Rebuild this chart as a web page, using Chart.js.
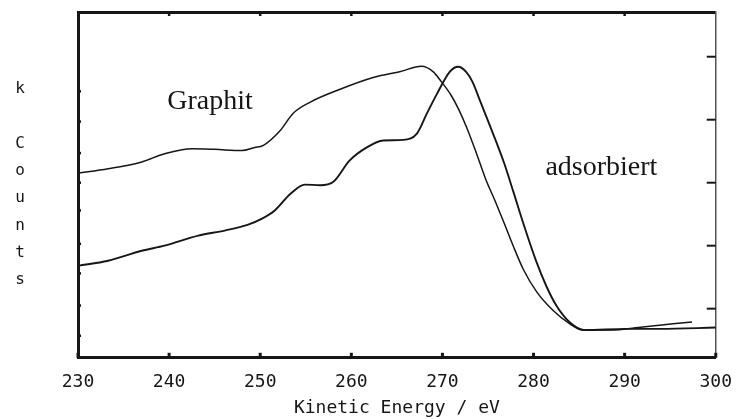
<!DOCTYPE html>
<html>
<head>
<meta charset="utf-8">
<script src="https://cdn.jsdelivr.net/npm/chart.js@4"></script>
<style>
  html, body { margin: 0; padding: 0; background: #fff; }
  #wrap { width: 736px; height: 419px; }
</style>
</head>
<body>
<div id="wrap"><canvas id="augerChart"></canvas></div>
<script>
// tick positions (eV on x, k counts on y)
const energyTicks = [230, 240, 250, 260, 270, 280, 290, 300];
const countTicksLeft = [0.57, 1.05, 1.56, 2.03, 2.56, 3.0, 3.47, 3.97, 4.45];
const countTicksRight = [1, 2, 3, 4, 5];

// spectra
const graphitEnergy = [230, 233.3, 237, 239.5, 242.5, 245, 248, 249.4, 250.3, 252.2, 253.6, 255.5,
  258.7, 262.4, 265.3, 267.7, 269, 269.9, 270.9, 271.8, 272.65, 273.75, 274.74, 275.75, 276.66,
  277.76, 278.86, 280.33, 282.15, 283.98, 285.4, 288.4, 292, 297.4];
const graphitCounts = [3.15, 3.22, 3.33, 3.46, 3.54, 3.53, 3.51, 3.56, 3.59, 3.83, 4.1, 4.28,
  4.48, 4.67, 4.76, 4.85, 4.76, 4.6, 4.4, 4.16, 3.88, 3.46, 3.06, 2.72, 2.40,
  2.0, 1.63, 1.27, 0.97, 0.76, 0.66, 0.66, 0.71, 0.79];

const adsorbEnergy = [230, 233.3, 237, 239.5, 243.2, 246.1, 248.6, 250.2, 251.6, 253.3, 254.9,
  256.6, 258, 259.8, 261.7, 263.5, 265.7, 267.2, 268.3, 269.4, 270.8, 271.73, 272.6, 273.3,
  274.1, 275.5, 276.8, 277.8, 279.0, 280.3, 281.4, 282.5, 284.0, 285.6, 290.2, 293.9, 300];
const adsorbCounts = [1.68, 1.76, 1.92, 2.0, 2.16, 2.24, 2.33, 2.43, 2.56, 2.82, 2.97,
  2.96, 3.01, 3.35, 3.56, 3.67, 3.68, 3.78, 4.1, 4.41, 4.76, 4.84, 4.76, 4.6,
  4.31, 3.8, 3.3, 2.85, 2.3, 1.75, 1.36, 1.05, 0.78, 0.66, 0.68, 0.68, 0.70];

const ink = '#161616';

function toPoints(xs, ys) {
  return xs.map((x, i) => ({ x: x, y: ys[i] }));
}

function setTicks(values) {
  return scale => { scale.ticks = values.map(v => ({ value: v })); };
}

// short tick marks pointing into the plot, on all four sides
const inwardTicks = {
  id: 'inwardTicks',
  afterDatasetsDraw(chart, args, opts) {
    const ctx = chart.ctx;
    const area = chart.chartArea;
    ctx.save();
    ctx.strokeStyle = ink;
    Object.keys(opts.sides).forEach(id => {
      const s = chart.scales[id];
      const o = opts.sides[id];
      ctx.lineWidth = o.width;
      s.ticks.forEach(t => {
        const p = s.getPixelForValue(t.value);
        ctx.beginPath();
        if (id === 'x') { ctx.moveTo(p, area.bottom); ctx.lineTo(p, area.bottom - o.len); }
        if (id === 'x2') { ctx.moveTo(p, area.top); ctx.lineTo(p, area.top + o.len); }
        if (id === 'y') { ctx.moveTo(area.left, p); ctx.lineTo(area.left + o.len, p); }
        if (id === 'y2') { ctx.moveTo(area.right, p); ctx.lineTo(area.right - o.len, p); }
        ctx.stroke();
      });
    });
    ctx.restore();
  }
};

// curve names and the stacked "k Counts" label
const textLabels = {
  id: 'textLabels',
  afterDraw(chart, args, opts) {
    const ctx = chart.ctx;
    const sx = chart.scales.x, sy = chart.scales.y;
    ctx.save();
    ctx.fillStyle = ink;
    ctx.textBaseline = 'middle';
    ctx.textAlign = 'left';
    ctx.font = '28px "Liberation Serif", "Times New Roman", serif';
    opts.names.forEach(n => {
      ctx.fillText(n.text, sx.getPixelForValue(n.x), sy.getPixelForValue(n.y));
    });
    ctx.textAlign = 'center';
    ctx.font = '16px "DejaVu Sans Mono", monospace';
    const yl = opts.yLabel;
    yl.lines.forEach((ch, i) => {
      ctx.fillText(ch, yl.left, yl.top + i * yl.step);
    });
    ctx.restore();
  }
};

const frameGrid = { display: false, drawTicks: false };

new Chart(document.getElementById('augerChart'), {
  type: 'line',
  data: {
    datasets: [{
      label: 'Graphit',
      data: toPoints(graphitEnergy, graphitCounts),
      borderColor: ink,
      borderWidth: 1.5,
      pointRadius: 0,
      cubicInterpolationMode: 'monotone',
      fill: false
    }, {
      label: 'adsorbiert',
      data: toPoints(adsorbEnergy, adsorbCounts),
      borderColor: ink,
      borderWidth: 1.9,
      pointRadius: 0,
      cubicInterpolationMode: 'monotone',
      fill: false
    }]
  },
  options: {
    responsive: true,
    maintainAspectRatio: false,
    animation: false,
    layout: { padding: { left: 78, right: 20, top: 12, bottom: 0 } },
    plugins: {
      legend: { display: false },
      tooltip: { enabled: false },
      inwardTicks: {
        sides: {
          x: { len: 5, width: 3 },
          x2: { len: 4, width: 2.5 },
          y: { len: 3, width: 2.5 },
          y2: { len: 9, width: 2 }
        }
      },
      textLabels: {
        names: [
          { text: 'Graphit', x: 239.8, y: 4.28 },
          { text: 'adsorbiert', x: 281.3, y: 3.24 }
        ],
        yLabel: { lines: ['k', '', 'C', 'o', 'u', 'n', 't', 's'], left: 20, top: 89, step: 27.3 }
      }
    },
    scales: {
      x: {
        type: 'linear',
        position: 'bottom',
        min: 230,
        max: 300,
        afterBuildTicks: setTicks(energyTicks),
        grid: { display: false, drawTicks: true, tickLength: 10 },
        border: { display: true, width: 3, color: ink },
        ticks: {
          padding: 4,
          color: ink,
          font: { family: '"DejaVu Sans Mono", monospace', size: 18 },
          maxRotation: 0
        },
        title: {
          display: true,
          text: 'Kinetic Energy / eV',
          color: ink,
          font: { family: '"DejaVu Sans Mono", monospace', size: 18 },
          padding: { top: 0, bottom: 0 }
        }
      },
      x2: {
        type: 'linear',
        position: 'top',
        min: 230,
        max: 300,
        afterBuildTicks: setTicks(energyTicks.slice(1, -1)),
        grid: frameGrid,
        border: { display: true, width: 3, color: ink },
        ticks: { display: false }
      },
      y: {
        type: 'linear',
        position: 'left',
        min: 0.22,
        max: 5.71,
        afterBuildTicks: setTicks(countTicksLeft),
        grid: frameGrid,
        border: { display: true, width: 3, color: ink },
        ticks: { display: false }
      },
      y2: {
        type: 'linear',
        position: 'right',
        min: 0.22,
        max: 5.71,
        afterBuildTicks: setTicks(countTicksRight),
        grid: frameGrid,
        border: { display: true, width: 1.5, color: '#555' },
        ticks: { display: false }
      }
    }
  },
  plugins: [inwardTicks, textLabels]
});
</script>
</body>
</html>
